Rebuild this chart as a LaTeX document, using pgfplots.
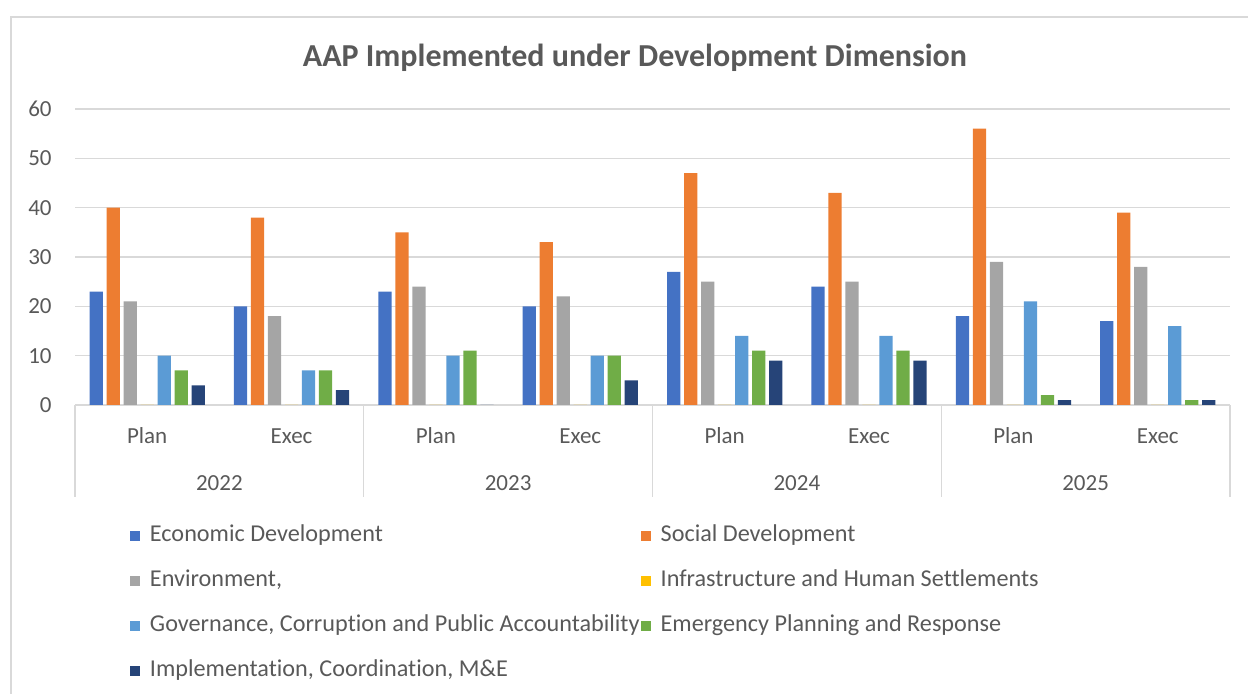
\documentclass[border=0pt]{standalone}
\usepackage{fontspec}
\setmainfont{Carlito}[Ligatures={NoCommon}]
\usepackage{pgfplots}
\pgfplotsset{compat=1.18}
\definecolor{c1}{HTML}{4472C4}
\definecolor{c2}{HTML}{ED7D31}
\definecolor{c3}{HTML}{A5A5A5}
\definecolor{c4}{HTML}{FFC000}
\definecolor{c5}{HTML}{5B9BD5}
\definecolor{c6}{HTML}{70AD47}
\definecolor{c7}{HTML}{264478}
\definecolor{txt}{HTML}{595959}
\definecolor{gridc}{HTML}{D9D9D9}
\begin{document}
\begin{tikzpicture}[x=1pt,y=1pt]
\useasboundingbox (0,0) rectangle (624,347);
\draw[gridc, line width=0.75pt] (5.5,0) -- (5.5,338.5) -- (624,338.5);
\node[anchor=base, font=\fontsize{16}{19}\selectfont\bfseries, text=txt, inner sep=0pt] at (317.5,313.5) {AAP Implemented under Development Dimension};
\begin{axis}[
  at={(37.5pt,144.5pt)}, anchor=south west,
  scale only axis, width=577.5pt, height=148pt,
  ybar=1.9pt, bar width=6.6pt,
  xmin=-0.5, xmax=7.5, ymin=0, ymax=60,
  ytick={0,10,...,60},
  ymajorgrids, grid style={gridc, line width=0.7pt},
  axis x line*=bottom, axis y line*=left,
  y axis line style={draw=none},
  x axis line style={gridc, line width=0.7pt, -},
  xtick={0,...,7},
  xticklabels={Plan,Exec,Plan,Exec,Plan,Exec,Plan,Exec},
  extra x ticks={0.5,2.5,4.5,6.5},
  extra x tick labels={2022,2023,2024,2025},
  extra x tick style={xticklabel style={yshift=-23.5pt}, major tick length=0pt},
  minor xtick={-0.5,1.5,3.5,5.5,7.5},
  major tick length=0pt, minor tick length=46pt,
  tick align=outside,
  minor tick style={gridc, line width=0.7pt},
  major tick style={draw=none},
  tick label style={font=\fontsize{11.5}{13.8}\selectfont, text=txt, inner sep=0pt},
  xticklabel style={anchor=base, yshift=-19.25pt},
  yticklabel style={anchor=east, xshift=-11.5pt},
  /pgf/number format/assume math mode=true,
  legend columns=2,
  legend cell align=left,
  legend style={at={(0.0476,-0.407)}, anchor=north west, draw=none, fill=none,
    inner sep=0pt, outer sep=0pt, font=\fontsize{12.1}{14.5}\selectfont, text=txt,
    row sep=12pt,
    nodes={inner sep=0pt, text height=8pt, text depth=2.5pt},
    /tikz/every odd column/.style={column sep=5pt},
    /tikz/every even column/.style={column sep=0.5pt}},
  legsq/.style={legend image code/.code={\fill[##1] (0pt,-2.5pt) rectangle (5pt,2.5pt);}},
]
\addplot[fill=c1, draw=none, legsq] coordinates {(0,23) (1,20) (2,23) (3,20) (4,27) (5,24) (6,18) (7,17)};
\addlegendentry{Economic Development}
\addplot[fill=c2, draw=none, legsq] coordinates {(0,40) (1,38) (2,35) (3,33) (4,47) (5,43) (6,56) (7,39)};
\addlegendentry{Social Development}
\addplot[fill=c3, draw=none, legsq] coordinates {(0,21) (1,18) (2,24) (3,22) (4,25) (5,25) (6,29) (7,28)};
\addlegendentry{Environment,}
\addplot[fill=c4, draw=none, legsq] coordinates {(0,0) (1,0) (2,0) (3,0) (4,0) (5,0) (6,0) (7,0)};
\addlegendentry{Infrastructure and Human Settlements}
\addplot[fill=c5, draw=none, legsq] coordinates {(0,10) (1,7) (2,10) (3,10) (4,14) (5,14) (6,21) (7,16)};
\addlegendentry{Governance, Corruption and Public Accountability}
\addplot[fill=c6, draw=none, legsq] coordinates {(0,7) (1,7) (2,11) (3,10) (4,11) (5,11) (6,2) (7,1)};
\addlegendentry{Emergency Planning and Response}
\addplot[fill=c7, draw=none, legsq] coordinates {(0,4) (1,3) (2,0) (3,5) (4,9) (5,9) (6,1) (7,1)};
\addlegendentry{Implementation, Coordination, M\&E}
\end{axis}
\end{tikzpicture}
\end{document}
